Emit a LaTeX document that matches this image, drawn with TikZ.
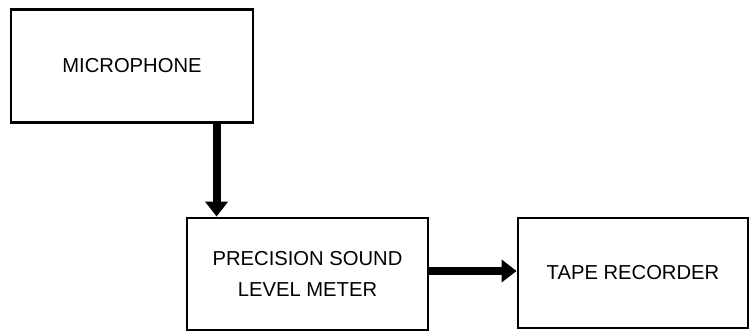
\documentclass[tikz,border=0pt]{standalone}
\usepackage{fontspec}
\setmainfont{Liberation Sans}
\usepackage{tikz}
\usetikzlibrary{arrows.meta,positioning,calc}

\begin{document}
\begin{tikzpicture}[
  x=0.02cm, y=-0.02cm,
  every node/.style={font=\fontsize{11.5}{17.6}\selectfont},
  blk/.style={draw,line width=1.6pt,inner sep=2pt,align=center},
  arr/.style={-{Triangle[length=8.5pt,width=12.5pt]},line width=4.5pt}
]
  \useasboundingbox (0,0) rectangle (752,331);
  \node[blk,minimum width=242*0.02cm,minimum height=113*0.02cm] (mic) at (132,66) {MICROPHONE};
  \node[blk,minimum width=241*0.02cm,minimum height=112*0.02cm] (slm) at (307.5,274) {PRECISION SOUND\\LEVEL METER};
  \node[blk,minimum width=230*0.02cm,minimum height=110*0.02cm] (tape) at (633,273) {TAPE RECORDER};
  \draw[arr] ([xshift=0.62cm]slm.north west |- mic.south) -- ([xshift=0.62cm]slm.north west);
  \draw[arr] ([yshift=0.06cm]slm.east) -- ([yshift=0.06cm]slm.east -| tape.west);
\end{tikzpicture}
\end{document}
